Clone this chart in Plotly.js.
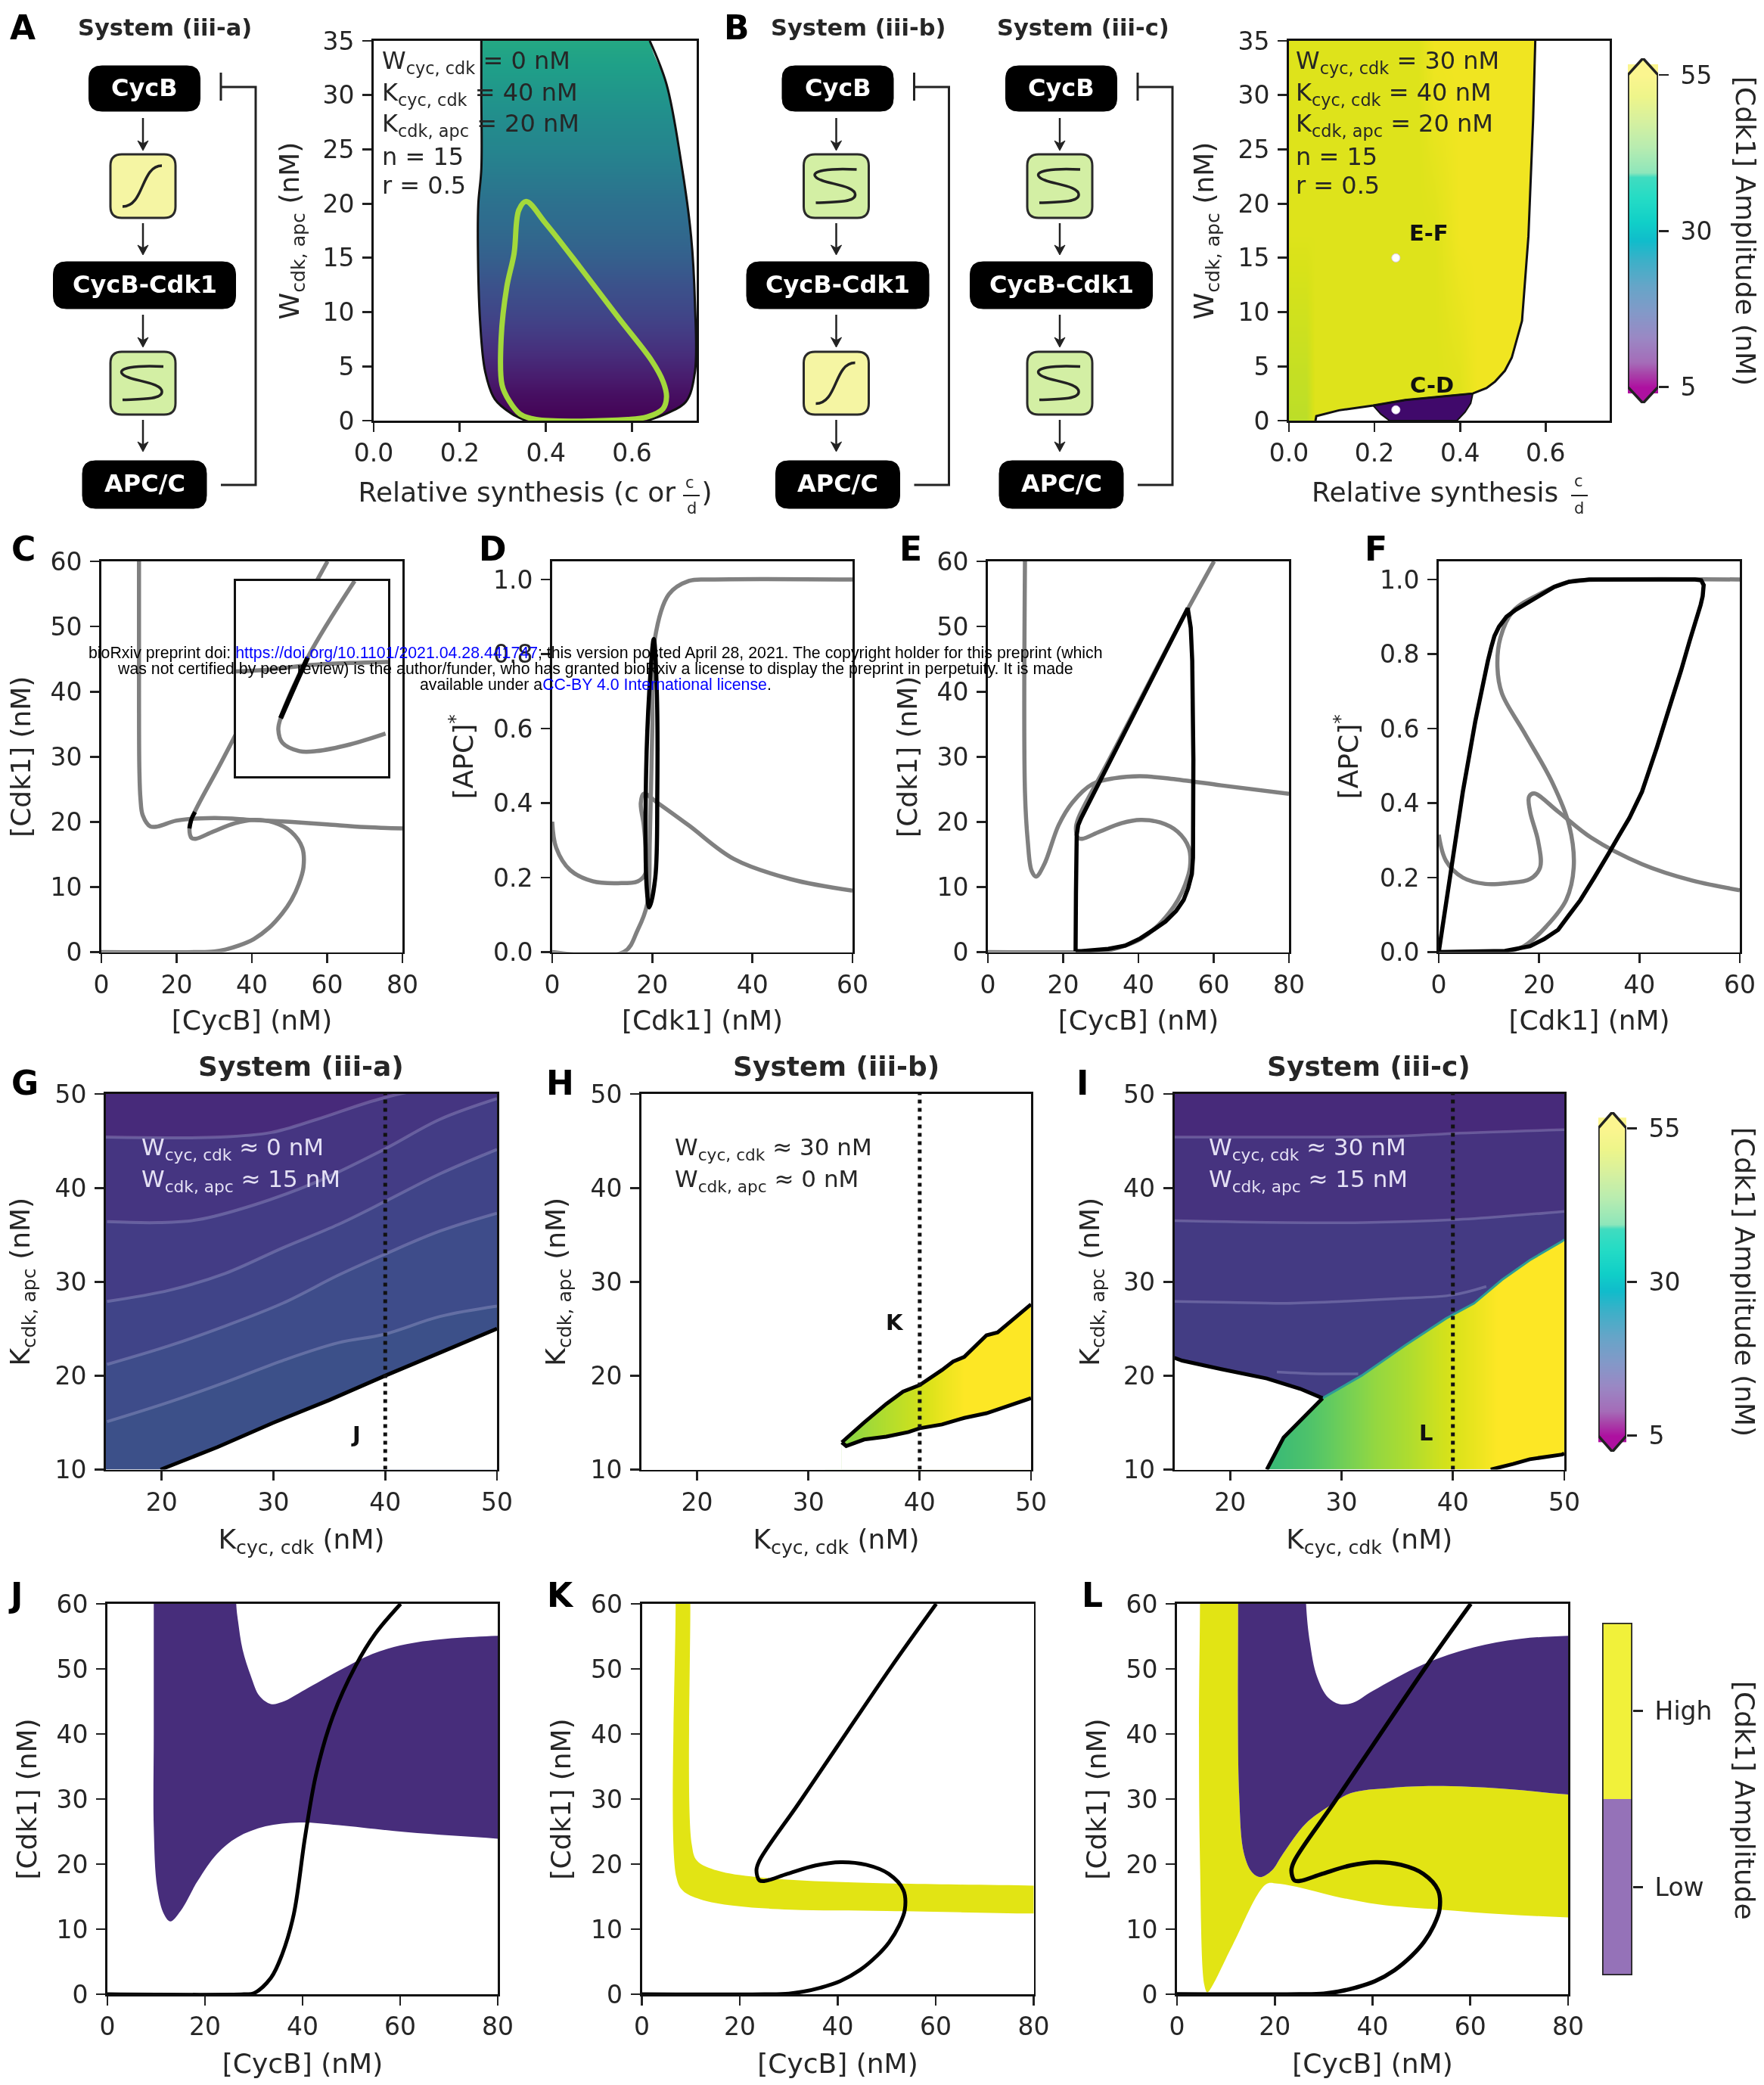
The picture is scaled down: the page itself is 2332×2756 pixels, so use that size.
<!DOCTYPE html>
<html><head><meta charset="utf-8">
<script src="https://cdn.plot.ly/plotly-3.0.1.min.js"></script>
<style>html,body{margin:0;padding:0;background:#fff}#chart{width:2332px;height:2756px;filter:blur(0.7px)}</style>
</head><body><div id="chart"></div>
<script>
// ---------- values ----------
// Panel A
const aHeatY=[0,2.5,5,7.5,10,12.5,15,17.5,20,22.5,25,27.5,30,32.5,35];
const aHeatZ=[5,7,10,13,15.5,17.5,20,22,23.5,25.5,27.5,29,31,33,35];
const aLeftX=[.25,.25,.25,.243,.242,.247,.259,.281,.32,.354];
const aLeftY=[35,30,23.2,20,16,9.2,4.5,2,.65,0];
const aRightX=[.641,.68,.714,.737,.746,.746,.725,.68,.635];
const aRightY=[35,31,23.8,17,10.8,4.5,1.74,.65,0];
const aLoopX=[.354,.399,.478,.568,.646,.672,.68,.672,.635,.59,.377,.34,.315,.298,.296,.309,.326,.337,.354];
const aLoopY=[20.2,18.2,14.2,9.5,5.5,3.6,2.2,1.1,.34,.1,.1,.6,1.8,3.3,7.6,12.3,15.4,19.4,20.2];
// Panel B
const bHeatX=[0,.04,.06,.3,.34,.4,.44,.75];
const bHeatY=[0,17,35];
const bHeatZ=[[50,50,52.5,52.5,52.5,52.5,54,54],[52.5,52.5,52.5,52.5,52.5,54,54,54],[52.5,52.5,52.5,52.5,54,54,54,54]];
const bEdgeX=[.062,.064,.117,.197,.272,.43,.462,.482,.505,.521,.545,.56,.571,.576];
const bEdgeY=[0,.42,.95,1.39,1.9,2.5,3,3.6,4.6,5.8,9.2,17,27.8,35];
const bPurpleX=[.197,.272,.43,.425,.412,.393,.235,.215,.197];
const bPurpleY=[1.39,1.9,2.5,1.6,.8,0,0,.6,1.39];
const bDotX=[.25,.25], bDotY=[15,1];
// Panels C, E, K, L: S-shaped nullcline [CycB] vs [Cdk1]
const sX=[0,25,30,33,36.5,40.5,44.5,48,50.5,52.5,53.7,53.4,50.4,45.8,40.6,35.5,29.7,25.1,24,23.4,24,32,40,51,60.1];
const sY=[0,0,.1,.4,1,2,3.7,5.9,8,10.5,13,16,18.5,19.9,20.3,19.8,18.5,17.4,17.5,19,20.5,29.3,38.2,50.4,60];
const cGreyX=[10,10,10.1,10.4,11,13,15,20,30,40,50,60,70,80];
const cGreyY=[60,40,28,23.5,21,19.3,19.3,20.2,20.6,20.3,20,19.6,19.2,19];
const cBlackX=[23.4,24,24.9], cBlackY=[19,20.5,21.5];
// Inset of C
const inSX=[25.68,23.83,22.76,22.67,22.83,23.5,24.17,25.5,26.9];
const inSY=[23,20.26,18.08,17.67,17.2,16.9,16.9,17.14,17.53];
const inHX=[21,22.16,23.94,25.5,27], inHY=[19.76,19.81,19.99,20.06,20.1];
const inBX=[23.83,23.3,22.76], inBY=[20.26,19.2,18.08];
// Panel D
const dSigX=[0,14.3,17.1,19,19.5,20,20.5,23.3,27.3,31.8,60];
const dSigY=[0,0,.06,.13,.3,.6,.84,.96,.996,1,1];
const dRetX=[0,.8,3.6,8.1,13.2,17.1,18.6,18.8,18.3,17.7,18.3,21.1,27.3,36.3,47.6,60];
const dRetY=[.35,.28,.22,.19,.185,.19,.21,.25,.34,.40,.425,.40,.34,.25,.196,.165];
const dLoopX=[19.4,18.9,18.7,19.4,20.3,20.9,21,20.6,19.4];
const dLoopY=[.12,.17,.43,.7,.84,.7,.43,.2,.12];
// Panel E
const eGreyX=[9.85,9.85,10.6,11.6,12.8,15,18.8,22.5,27.8,33.7,40.4,48.7,62,80];
const eGreyY=[60,24.6,17,12.5,11.6,13.5,19.5,23,25.8,26.7,27,26.6,25.6,24.3];
const eCycleX=[23.3,23.4,23.6,24,24.8,53.1,53.9,54.3,54.6,54.5,54.2,53.2,52,50,47.2,44.2,40.5,36.5,32,24.8,23.3];
const eCycleY=[.15,9,18,19.5,20.6,52.8,49.8,44.7,29.6,14.5,12,9.8,8,6.3,4.7,3.5,2.1,1,.5,.15,.15];
// Panel F
const fSX=[0,13.2,17,21.5,25.4,26.9,26,22.6,17,12.6,11.7,12.3,14.8,20.4,26,34.9,60];
const fSY=[0,0,.016,.07,.14,.227,.34,.456,.59,.694,.765,.844,.915,.963,.994,1,1];
const fRetX=[0,1.45,4.8,9.3,13.7,18.2,20.2,19.8,18.2,18,19,23.8,30.4,40.5,50.5,60];
const fRetY=[.315,.245,.2,.183,.185,.196,.227,.298,.377,.417,.426,.377,.307,.236,.192,.166];
const fCycleX=[0,2.4,4.8,7.3,9.8,10.5,11.1,12,13.5,15.4,20.4,23,26,30,34.9,51.1,52.3,52.8,52.6,52.2,50,48.3,46.4,43.5,40.5,38,35.8,33.8,31,28.2,26,23.8,21,18.2,13.2,0];
const fCycleY=[0,.215,.43,.62,.782,.82,.848,.873,.9,.919,.959,.98,.994,1,1,1,.998,.985,.955,.932,.835,.756,.675,.55,.43,.36,.31,.263,.2,.139,.1,.06,.035,.016,.003,0];
// Panel G
const gL1X=[15,25.2,29.8,33.9,39.9,50], gL1Y=[45.4,45.4,45.9,47.3,49.6,52];
const gL2X=[15.1,19.65,23.2,28.3,33.8,39.9,44.9,50], gL2Y=[36.4,36.3,36.6,38.2,40.6,44.1,47.3,49.5];
const gL3X=[15.1,20.7,25.7,30.8,35.8,39.9,44.9,50], gL3Y=[27.9,29.1,30.9,33.6,36.1,38.5,41.5,44.1];
const gL4X=[15.1,20.7,25.7,30.8,35.8,39.9,44.9,50], gL4Y=[21.2,23.2,25.3,27.7,30.7,32.9,35.4,37.3];
const gL5X=[15.1,20.7,25.7,30.8,35.8,39.9,44.9,50], gL5Y=[15.1,17.2,19.3,21.6,23.5,24.4,26.3,27.4];
const gEdgeX=[19.9,25,30,35,40,45,50], gEdgeY=[10,12.4,15,17.4,20,22.5,25];
const dottedX=[40,40], dottedY=[10,50];
// Panel H
const hHeatX=[33,36,38,40,42,44,50], hHeatZ=[46,48.5,50,51.5,53.5,55,55];
const hUpX=[33,35,37,38.5,40,42,43,44,46,47,50], hUpY=[12.9,15,17,18.3,19,20.6,21.5,22,24.3,24.6,27.6];
const hLoX=[33,33.4,35,37,39,40,42,44,46,48,50], hLoY=[12.9,12.5,13.2,13.5,14,14.4,14.8,15.5,16,16.8,17.6];
// Panel I
const iHeatX=[23,24,27,30,33,36,39,42,44,50], iHeatZ=[39,39,41,44,47,49,51.5,53.5,55,55];
const iTopEdgeX=[15,15.7,19.2,23.3,26.3,28.3], iTopEdgeY=[21.9,21.6,20.7,19.7,18.6,17.6];
const iDownEdgeX=[28.3,26.8,24.8,23.3], iDownEdgeY=[17.6,15.8,13.4,10];
const iDiagX=[28.3,31.8,35.8,39.4,41.9,44.4,46.9,49.8,50], iDiagY=[17.6,20,23.3,26.1,27.7,30.2,32.3,34.3,34.5];
const iNotchX=[43.4,45.4,46.9,49.8,50], iNotchY=[10,10.6,11.1,11.6,11.7];
const iL1X=[15,25,35,40,50], iL1Y=[45.4,45.4,45.5,45.8,46.2];
const iL2X=[15,25,32,40,45,50], iL2Y=[36.5,36.3,36.3,36.6,37,37.5];
const iL3X=[15,20,25,30,35,40,43], iL3Y=[27.9,27.8,27.7,27.9,28.2,28.6,29.5];
const iL4X=[24.2,28,31.5], iL4Y=[20.4,20.2,20.2];
// Panel J (polygon ends run past the axes so they stay straight at the frame)
const jLowX=[95,80,61.3,47.4,39.3,32.4,26.6,22.5,18.5,15,12.9,11.6,10.2,9.5,9.5,9.5,9.5,9.5];
const jLowY=[23,23.9,24.9,26,26.4,25.8,24.1,21.6,17.4,12.8,11.2,12.3,16.4,25.7,40,60,70,80];
const jUpX=[26.3,26.3,26.4,26.8,27.7,29.4,31.2,33.5,35.8,40.5,47.4,54.3,61.3,70.5,80,95];
const jUpY=[80,70,60,57.2,53,48.9,45.8,44.6,44.9,46.8,49.7,52.3,53.8,54.7,55.1,55.5];
const jCurveX=[0,28,30,33.5,35.8,38.2,40.5,42.8,46.2,50.9,54.9,60.1];
const jCurveY=[0,0,.15,2.5,6.1,12.3,24.1,33.9,42.7,50.5,55.4,60];
// Panel K
const kUpX=[9.9,9.9,9.9,10.2,11.3,15.4,23.5,42,80,95], kUpY=[80,70,60,23,20.5,19,18,17.2,16.7,16.5];
const kLoX=[95,80,50,30.4,18.8,11.9,8.4,7.05,6.9,6.9,6.9], kLoY=[12.3,12.4,12.8,13,13.6,14.6,15.9,18,60,70,80];
// Panel L
const lYelLeftX=[4.7,4.7,4.7,4.5,4.7,5.6,6.2,7.3,11.4,18.2,20.5,25.1,32,41.2,53.8,66.5,80,95];
const lYelLeftY=[80,70,60,41,20.5,1.4,.3,1.4,7.6,16.9,17,16.4,15.1,13.8,13,12.3,11.8,11.3];
const lMidX=[95,80,66.5,52.7,43.5,35.5,30.9,26.3,21.7,19.4,17.1,15.4,13.7,12.7,12.5,12.5,12.5];
const lMidY=[30,30.7,31.6,32,31.7,30.9,28.8,26.2,21.6,19,18,18.7,21.6,30.9,60,70,80];
const lUpX=[26.3,26.3,26.4,27.2,28.6,30.9,33.2,36,40,50.4,60.7,69.9,80,95];
const lUpY=[80,70,60,54,48.9,45.6,44.6,44.8,46.6,50.7,53.3,54.6,55.1,55.5];
// Colour bar
const barZ=[5,7,9,13,17,21.2,25.3,28.5,31.4,35.4,38.6,39.4,43.5,47.5,51.6,55];
const barColors=['#ae10a0','#a840a8','#a56cb8','#9a88c4','#8399c8','#66a5c8','#3cb0c8','#10bccb','#10cfc8','#25dcc5','#40dcc0','#8ee6bb','#b8ecb0','#d5f0a0','#eef58a','#fbf58f'];
const barTicks=[5,30,55];
const discreteLabels=['Low','High'];
const discretePos=[.5,1.5];
const xTicks80=[0,20,40,60,80], yTicks60=[0,10,20,30,40,50,60], apcTicks=[0,.2,.4,.6,.8,1], cdkTicks=[0,20,40,60];
const synTicks=[0,.2,.4,.6], wTicks=[0,5,10,15,20,25,30,35], kTicksX=[20,30,40,50], kTicksY=[10,20,30,40,50];

// ---------- layout helpers ----------
const W=2332,H=2756;
const FONT='"DejaVu Sans", sans-serif', INK='#262626';
const px=x=>x/W, py=y=>1-y/H;
const layout={width:W,height:H,margin:{l:0,r:0,t:0,b:0},paper_bgcolor:'#fff',plot_bgcolor:'#fff',showlegend:false,
  font:{family:FONT,color:INK},shapes:[],annotations:[]};
const data=[];
let n=0;
function panel(r,xr,yr,xt,yt,xTitle,yTitle,o){
  o=o||{};n++;
  const s=n===1?'':String(n), xk='xaxis'+s, yk='yaxis'+s;
  const base={showgrid:false,zeroline:false,showline:true,mirror:true,linecolor:'#111',linewidth:2.8,ticks:'outside',ticklen:12,tickwidth:2.8,tickcolor:'#222',
    tickfont:{family:FONT,size:33,color:INK},automargin:false,layer:'above traces'};
  layout[xk]=Object.assign({},base,{domain:[px(r[0]),px(r[1])],range:xr,anchor:'y'+s,tickmode:'array',tickvals:xt,ticktext:(xt||[]).map(String)});
  layout[yk]=Object.assign({},base,{domain:[py(r[3]),py(r[2])],range:yr,anchor:'x'+s,tickmode:'array',tickvals:yt,ticktext:(yt||[]).map(v=>o.yfmt?o.yfmt(v):String(v)),ticklabelstandoff:4});
  if(xTitle)layout[xk].title={text:xTitle,font:{family:FONT,size:36,color:INK},standoff:o.xs||16};
  if(yTitle)layout[yk].title={text:yTitle,font:{family:FONT,size:36,color:INK},standoff:o.ys||15};
  return {x:'x'+s,y:'y'+s,xk,yk};
}
function line(a,xs,ys,color,w,extra){return Object.assign({type:'scatter',mode:'lines',x:xs,y:ys,xaxis:a.x,yaxis:a.y,line:Object.assign({color:color,width:w,simplify:false},extra||{}),hoverinfo:'skip'});}
function curve(a,xs,ys,color,w){return line(a,xs,ys,color,w,{shape:'spline',smoothing:1});}
function area(a,xs,ys,color,smooth){return {type:'scatter',mode:'lines',x:xs,y:ys,xaxis:a.x,yaxis:a.y,fill:'toself',fillcolor:color,line:smooth?{width:0,color:color,shape:'spline',smoothing:1}:{width:0,color:color},hoverinfo:'skip'};}
function heat(a,xs,ys,zs){return {type:'heatmap',x:xs,y:ys,z:zs,xaxis:a.x,yaxis:a.y,colorscale:'Viridis',zmin:5,zmax:55,zauto:false,showscale:false,zsmooth:'best',hoverinfo:'skip'};}
function note(xp,yp,text,o){o=o||{};layout.annotations.push({xref:'paper',yref:'paper',x:px(xp),y:py(yp),text:text,showarrow:false,xanchor:o.xa||'left',yanchor:'middle',textangle:o.rot||0,
  font:{family:o.family||FONT,size:o.size||27,color:o.color||INK,weight:o.weight||400},borderpad:0,borderwidth:0});}
function path(d,fill,stroke,w){layout.shapes.push({type:'path',xref:'paper',yref:'paper',path:d,fillcolor:fill||'rgba(0,0,0,0)',line:{color:stroke||'rgba(0,0,0,0)',width:w||0},layer:'above'});}
const P=(x,y)=>px(x)+' '+py(y);
function rrect(x0,y0,x1,y1,r,fill,stroke,w){path('M '+P(x0+r,y0)+' L '+P(x1-r,y0)+' Q '+P(x1,y0)+' '+P(x1,y0+r)+' L '+P(x1,y1-r)+' Q '+P(x1,y1)+' '+P(x1-r,y1)+' L '+P(x0+r,y1)+' Q '+P(x0,y1)+' '+P(x0,y1-r)+' L '+P(x0,y0+r)+' Q '+P(x0,y0)+' '+P(x0+r,y0)+' Z',fill,stroke,w);}
function seg(x0,y0,x1,y1,w,c){path('M '+P(x0,y0)+' L '+P(x1,y1),null,c||'#222',w||2.5);}

// ---------- wiring diagrams ----------
function icon(cx,y0,y1,kind){
  const cy=(y0+y1)/2;
  rrect(cx-43,y0,cx+43,y1,15,kind==='sig'?'#f5f5a3':'#d3efa4','#2a2a2a',3);
  if(kind==='sig'){path('M '+P(cx-27,cy+27)+' C '+P(cx+2,cy+27)+' '+P(cx-3,cy-27)+' '+P(cx+25,cy-27),null,'#222',3.5);}
  else{path('M '+P(cx+27,cy-22)+' C '+P(cx-10,cy-24)+' '+P(cx-35,cy-20)+' '+P(cx-27,cy-12)+' C '+P(cx-20,cy-3)+' '+P(cx+27,cy-2)+' '+P(cx+25,cy+12)+' C '+P(cx+24,cy+22)+' '+P(cx-5,cy+21)+' '+P(cx-27,cy+22),null,'#222',3.5);}
}
function diagram(cx,kinds){
  const ax=cx-2;
  const boxes=[['CycB',147,87,147],['CycB-Cdk1',241,346,408],['APC/C',164,609,672]];
  boxes.forEach(b=>{rrect(cx-b[1]/2,b[2],cx+b[1]/2,b[3],17,'#000','#000',1);
    note(cx,(b[2]+b[3])/2-1,b[0],{xa:'center',size:32,color:'#fff',weight:700});});
  icon(ax,204,288,kinds[0]);icon(ax,465,548,kinds[1]);
  [[156,199],[295,337],[416,459],[555,597]].forEach(s=>{
    seg(ax,s[0],ax,s[1]-6,2.5);
    path('M '+P(ax-7,s[1]-13)+' L '+P(ax,s[1])+' L '+P(ax+7,s[1]-13)+' L '+P(ax,s[1]-9)+' Z','#222','#222',1);});
  const fx=cx+147,sx=cx+101;
  path('M '+P(sx,641)+' L '+P(fx,641)+' L '+P(fx,115)+' L '+P(sx,115),null,'#222',3);
  seg(sx,96,sx,133,3);
}
diagram(191,['sig','s']);diagram(1107.5,['s','sig']);diagram(1403,['s','s']);
note(218,36,'System (iii-a)',{xa:'center',size:30.5,weight:700});
note(1134,36,'System (iii-b)',{xa:'center',size:30.5,weight:700});
note(1432,36,'System (iii-c)',{xa:'center',size:30.5,weight:700});

// ---------- Panel A ----------
const A=panel([494,921,54,556],[0,.75],[0,35],synTicks,wTicks,'Relative synthesis (c or\u00A0\u00A0\u00A0)','W<sub>cdk, apc</sub> (nM)',{xs:21,ys:20});
layout[A.xk].ticktext=synTicks.map(v=>v.toFixed(1));
data.push(heat(A,[0,.75],aHeatY,aHeatZ.map(v=>[v,v])));
data.push(area(A,[-.2,.25].concat(aLeftX,[.4,-.2]),[45,45].concat(aLeftY,[-3,-3]),'#fff',true));
data.push(area(A,[.62].concat(aRightX,[.6,1,1]),[45].concat(aRightY,[-3,-3,45]),'#fff',true));
data.push(curve(A,aLeftX,aLeftY,'#111',3),curve(A,aRightX,aRightY,'#111',3));
data.push(curve(A,aLoopX,aLoopY,'#a3d93b',7));
['W<sub>cyc, cdk</sub> = 0 nM','K<sub>cyc, cdk</sub> = 40 nM','K<sub>cdk, apc</sub> = 20 nM','n = 15','r = 0.5'].forEach((t,i)=>note(505,[82,124,165,207,245][i],t,{size:32}));
note(912,638,'c',{xa:'center',size:21});note(914,672,'d',{xa:'center',size:21});seg(903,655,925,655,2);

// ---------- Panel B ----------
const B=panel([1704,2128,54,556],[0,.75],[0,35],synTicks,wTicks,'Relative synthesis\u00A0\u2800','W<sub>cdk, apc</sub> (nM)',{xs:21,ys:21});
layout[B.xk].ticktext=synTicks.map(v=>v.toFixed(1));
data.push(heat(B,bHeatX,bHeatY,bHeatZ));
data.push(area(B,bEdgeX.concat([.75,.75,.062]),bEdgeY.concat([35,0,0]),'#fff',false));
data.push(area(B,bPurpleX,bPurpleY,'#40096b',false));
data.push(line(B,bEdgeX,bEdgeY,'#111',3));
data.push(line(B,bPurpleX,bPurpleY,'#111',2));
data.push({type:'scatter',mode:'markers',x:bDotX,y:bDotY,xaxis:B.x,yaxis:B.y,marker:{color:'#fff',size:11,line:{color:'#d8c8f0',width:1}},hoverinfo:'skip'});
['W<sub>cyc, cdk</sub> = 30 nM','K<sub>cyc, cdk</sub> = 40 nM','K<sub>cdk, apc</sub> = 20 nM','n = 15','r = 0.5'].forEach((t,i)=>note(1713,[82,124,165,207,245][i],t,{size:32}));
note(1889,308,'E-F',{xa:'center',size:29,weight:700,color:'#111'});
note(1893,509,'C-D',{xa:'center',size:29,weight:700,color:'#111'});
note(2087,636,'c',{xa:'center',size:21});note(2087,672,'d',{xa:'center',size:21});seg(2077,655,2099,655,2);

// ---------- Colour bars ----------
function colorBar(r,ymax,ymin,titleX,titleY){
  const a=panel(r,[0,1],[ymin,ymax],null,barTicks,null,null);
  layout[a.xk].visible=false;
  layout[a.yk].side='right';layout[a.yk].showline=false;layout[a.yk].mirror=false;layout[a.yk].ticklen=13;layout[a.yk].ticklabelstandoff=9;
  const scale=barZ.map((z,i)=>[(z-5)/50,barColors[i]]);
  data.push({type:'heatmap',x:[0,1],y:barZ,z:barZ.map(v=>[v,v]),xaxis:a.x,yaxis:a.y,colorscale:scale,zmin:5,zmax:55,zauto:false,showscale:false,zsmooth:'best',hoverinfo:'skip'});
  data.push(area(a,[0,.5,1],[55,ymax,55],barColors[barColors.length-1],false));
  data.push(area(a,[0,.5,1],[5,ymin,5],barColors[0],false));
  data.push(line(a,[0,.5,1,1,.5,0,0],[55,ymax,55,5,ymin,5,55],'#222',3.5));
  note(titleX,titleY,'[Cdk1] Amplitude (nM)',{xa:'center',rot:90,size:36});
}

// ---------- Panels C-F ----------
const C=panel([134,532,742,1258.5],[0,80],[0,60],xTicks80,yTicks60,'[CycB] (nM)','[Cdk1] (nM)');
data.push(curve(C,cGreyX,cGreyY,'#808080',5.5),curve(C,sX,sY,'#808080',5.5),curve(C,cBlackX,cBlackY,'#000',5.5));
const Ci=panel([312,513,768,1026],[21,27],[16,23],null,null,null,null);
layout[Ci.xk].ticks='';layout[Ci.yk].ticks='';layout[Ci.xk].showticklabels=false;layout[Ci.yk].showticklabels=false;
data.push(curve(Ci,inSX,inSY,'#808080',5.5),curve(Ci,inHX,inHY,'#808080',5.5),curve(Ci,inBX,inBY,'#000',6.5));
const D=panel([730,1127,742,1258.5],[0,60],[0,1.0487],cdkTicks,apcTicks,'[Cdk1] (nM)','[APC]<sup>*</sup>',{yfmt:v=>v.toFixed(1),ys:16});
data.push(curve(D,dSigX,dSigY,'#808080',5.5),curve(D,dRetX,dRetY,'#808080',5.5),curve(D,dLoopX,dLoopY,'#000',5.5));
const E=panel([1306,1704,742,1258.5],[0,80],[0,60],xTicks80,yTicks60,'[CycB] (nM)','[Cdk1] (nM)');
data.push(curve(E,eGreyX,eGreyY,'#808080',5.5),curve(E,sX,sY,'#808080',5.5),line(E,eCycleX,eCycleY,'#000',5.5));
const F=panel([1902,2300,742,1258.5],[0,60],[0,1.0487],cdkTicks,apcTicks,'[Cdk1] (nM)','[APC]<sup>*</sup>',{yfmt:v=>v.toFixed(1),ys:18});
data.push(curve(F,fSX,fSY,'#808080',5.5),curve(F,fRetX,fRetY,'#808080',5.5),line(F,fCycleX,fCycleY,'#000',5.5));

// ---------- Panels G-I ----------
const pale='rgba(190,190,225,.3)';
const G=panel([140,657,1446,1942.5],[15,50],[10,50],kTicksX,kTicksY,'K<sub>cyc, cdk</sub> (nM)','K<sub>cdk, apc</sub> (nM)',{ys:22,xs:18});
const gBands=[[gL5X,gL5Y,'#3e4c8a'],[gL4X,gL4Y,'#404488'],[gL3X,gL3Y,'#433c85'],[gL2X,gL2Y,'#453581'],[gL1X,gL1Y,'#472a7a']];
data.push(area(G,[15,50,50,15],[10,10,50,50],'#3c5089',false));
gBands.forEach(b=>data.push(area(G,b[0].concat([65,0]),b[1].concat([70,70]),b[2],false)));
gBands.forEach(b=>data.push(curve(G,b[0],b[1],pale,4)));
data.push(area(G,gEdgeX.concat([50,50]),gEdgeY.concat([10,10]),'#fff',false));
data.push(line(G,gEdgeX,gEdgeY,'#000',5));
data.push(line(G,dottedX,dottedY,'#111',5,{dash:'5px,6px'}));
note(187,1518,'W<sub>cyc, cdk</sub> \u2248 0 nM',{size:31,color:'#e4e0f4'});
note(187,1560,'W<sub>cdk, apc</sub> \u2248 15 nM',{size:31,color:'#e4e0f4'});
note(470,1896,'J',{xa:'center',size:29,weight:700,color:'#111'});
note(398,1410,'System (iii-a)',{xa:'center',size:36,weight:700});

const Hp=panel([848,1363,1446,1942.5],[15,50],[10,50],kTicksX,kTicksY,'K<sub>cyc, cdk</sub> (nM)','K<sub>cdk, apc</sub> (nM)',{ys:22,xs:18});
data.push(heat(Hp,hHeatX,[10,30],[hHeatZ,hHeatZ]));
data.push(area(Hp,[33,33].concat(hUpX,[50,15,15]),[10,12.9].concat(hUpY,[50,50,10]),'#fff',false));
data.push(area(Hp,hLoX.concat([50,33]),hLoY.concat([10,10]),'#fff',false));
data.push(line(Hp,hUpX,hUpY,'#000',5),line(Hp,hLoX,hLoY,'#000',5));
data.push(line(Hp,dottedX,dottedY,'#111',5,{dash:'5px,6px'}));
note(892,1518,'W<sub>cyc, cdk</sub> \u2248 30 nM',{size:31});
note(892,1560,'W<sub>cdk, apc</sub> \u2248 0 nM',{size:31});
note(1183,1748,'K',{xa:'center',size:29,weight:700,color:'#111'});
note(1105,1410,'System (iii-b)',{xa:'center',size:36,weight:700});

const I=panel([1552.5,2068,1446,1942.5],[15,50],[10,50],kTicksX,kTicksY,'K<sub>cyc, cdk</sub> (nM)','K<sub>cdk, apc</sub> (nM)',{ys:21,xs:18});
data.push(heat(I,iHeatX,[10,35],[iHeatZ,iHeatZ]));
data.push(area(I,iTopEdgeX.concat(iDiagX.slice(1),[50,15]),iTopEdgeY.concat(iDiagY.slice(1),[50,50]),'#433d84',false));
data.push(area(I,iL3X.concat(iDiagX.slice(5),[50,15]),iL3Y.concat(iDiagY.slice(5),[50,50]),'#443a83',false));
data.push(area(I,iL2X.concat([50,15]),iL2Y.concat([50,50]),'#46337f',false));
data.push(area(I,iL1X.concat([50,15]),iL1Y.concat([50,50]),'#472a7a',false));
[[iL1X,iL1Y],[iL2X,iL2Y],[iL3X,iL3Y],[iL4X,iL4Y]].forEach(l=>data.push(curve(I,l[0],l[1],pale,3.5)));
data.push(line(I,iDiagX,iDiagY,'#2e9e96',3));
data.push(area(I,[15].concat(iTopEdgeX,iDownEdgeX.slice(1)),[10].concat(iTopEdgeY,iDownEdgeY.slice(1)),'#fff',false));
data.push(area(I,iNotchX.concat([50]),iNotchY.concat([10]),'#fff',false));
data.push(line(I,iTopEdgeX,iTopEdgeY,'#000',5),line(I,iDownEdgeX,iDownEdgeY,'#000',5),line(I,iNotchX,iNotchY,'#000',5));
data.push(line(I,dottedX,dottedY,'#111',5,{dash:'5px,6px'}));
note(1598,1518,'W<sub>cyc, cdk</sub> \u2248 30 nM',{size:31,color:'#e4e0f4'});
note(1598,1560,'W<sub>cdk, apc</sub> \u2248 15 nM',{size:31,color:'#e4e0f4'});
note(1885,1894,'L',{xa:'center',size:29,weight:700,color:'#111'});
note(1809,1410,'System (iii-c)',{xa:'center',size:36,weight:700});

colorBar([2152,2192,77,533],57.67,2.4,2307,305);
colorBar([2113,2150,1470,1919],57.6,2.4,2307,1694);

// ---------- Panels J-L ----------
const purple='#472d7b', yellow='#e2e414';
const J=panel([142,658,2120,2636],[0,80],[0,60],xTicks80,yTicks60,'[CycB] (nM)','[Cdk1] (nM)',{ys:15,xs:18});
data.push(area(J,jLowX.concat(jUpX),jLowY.concat(jUpY),purple,true));
data.push(curve(J,jCurveX,jCurveY,'#000',5));
const K=panel([848.5,1366.5,2120,2636],[0,80],[0,60],xTicks80,yTicks60,'[CycB] (nM)','[Cdk1] (nM)',{ys:16,xs:18});
data.push(area(K,kUpX.concat(kLoX),kUpY.concat(kLoY),yellow,true));
data.push(curve(K,sX,sY,'#000',5));
const L=panel([1556,2073,2120,2636],[0,80],[0,60],xTicks80,yTicks60,'[CycB] (nM)','[Cdk1] (nM)',{ys:15,xs:18});
data.push(area(L,lYelLeftX.concat(lMidX),lYelLeftY.concat(lMidY),yellow,true));
data.push(area(L,lMidX.concat(lUpX),lMidY.concat(lUpY),purple,true));
data.push(curve(L,sX,sY,'#000',5.5));

const D2=panel([2118,2158,2145,2611],[0,1],[0,2],null,discretePos,null,null);
layout[D2.xk].visible=false;layout[D2.yk].side='right';layout[D2.yk].ticktext=discreteLabels;
layout[D2.yk].showline=false;layout[D2.yk].mirror=false;layout[D2.yk].ticklen=13;layout[D2.yk].ticklabelstandoff=9;
data.push({type:'heatmap',x:[.5],y:discretePos,z:[[0],[1]],xaxis:D2.x,yaxis:D2.y,colorscale:[[0,'#9572b8'],[.5,'#9572b8'],[.5,'#f1f13a'],[1,'#f1f13a']],zmin:0,zmax:1,zauto:false,showscale:false,hoverinfo:'skip'});
data.push(line(D2,[0,1,1,0,0],[0,0,2,2,0],'#222',3.5));
note(2307,2380,'[Cdk1] Amplitude',{xa:'center',rot:90,size:36});

// ---------- Panel letters ----------
[['A',30,36],['B',974,36],['C',31,725],['D',651,725],['E',1204,725],['F',1819,725],['G',33,1431],['H',740,1431],['I',1431,1431],['J',20,2108],['K',741,2108],['L',1444,2108]]
 .forEach(l=>note(l[1],l[2],l[0],{xa:'center',size:44,weight:700,color:'#000'}));

// ---------- Preprint banner ----------
const BAN='"Liberation Sans", Arial, sans-serif';
note(787,863,'bioRxiv preprint doi: <span style="color:#0000ff">https://doi.org/10.1101/2021.04.28.441747</span>; this version posted April 28, 2021. The copyright holder for this preprint (which',{xa:'center',size:21.3,family:BAN,color:'#000'});
note(787,884,'was not certified by peer review) is the author/funder, who has granted bioRxiv a license to display the preprint in perpetuity. It is made',{xa:'center',size:21.3,family:BAN,color:'#000'});
note(787,905,'available under a<span style="color:#0000ff">CC-BY 4.0 International license</span>.',{xa:'center',size:21.3,family:BAN,color:'#000'});

Plotly.newPlot('chart',data,layout,{staticPlot:true,displayModeBar:false,responsive:false});
</script></body></html>
